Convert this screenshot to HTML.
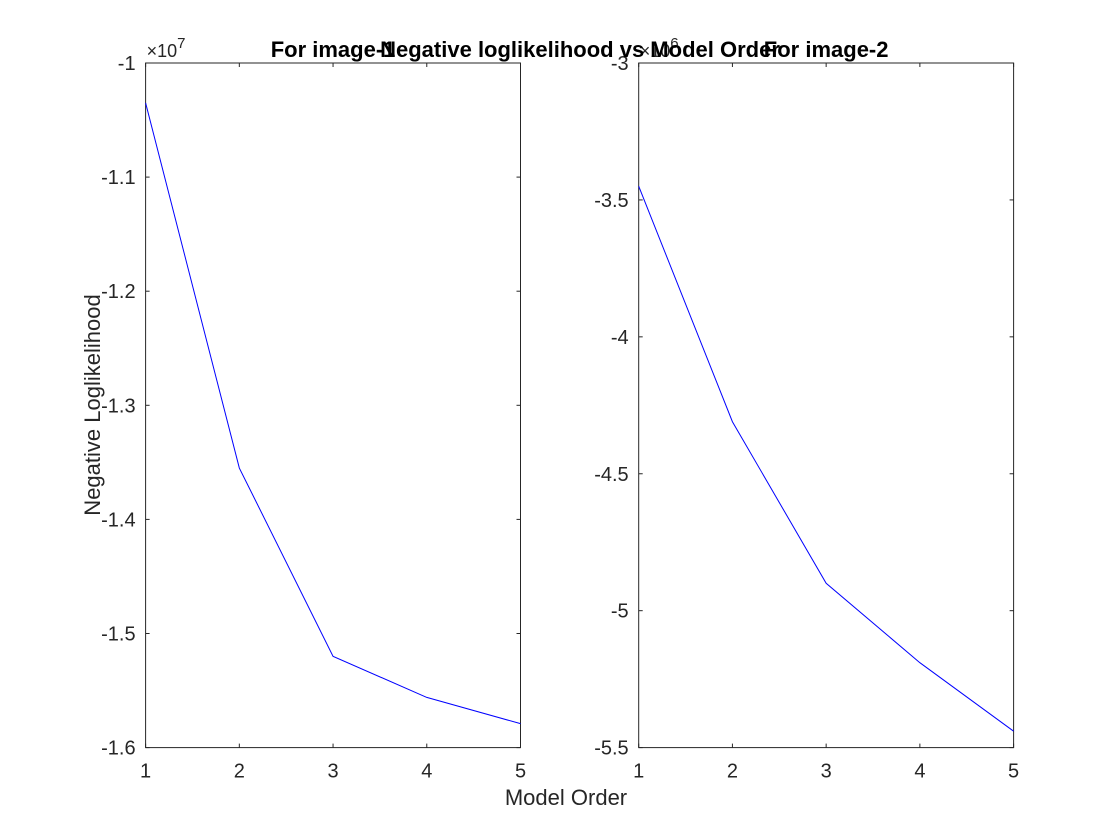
<!DOCTYPE html>
<html><head><meta charset="utf-8"><style>body{margin:0;background:#fff}svg{display:block;font-family:"Liberation Sans",Arial,sans-serif}</style></head>
<body>
<svg id="fig" width="1120" height="840" xmlns="http://www.w3.org/2000/svg"></svg>
<script>
const categories=[1,2,3,4,5];
const leftValues=[-1.035,-1.355,-1.52,-1.556,-1.579];
const rightValues=[-3.45,-4.31,-4.90,-5.19,-5.44];
const leftTicks=[-1,-1.1,-1.2,-1.3,-1.4,-1.5,-1.6];
const leftTickLabels=["-1","-1.1","-1.2","-1.3","-1.4","-1.5","-1.6"];
const rightTicks=[-3,-3.5,-4,-4.5,-5,-5.5];
const rightTickLabels=["-3","-3.5","-4","-4.5","-5","-5.5"];
const svg=document.getElementById('fig');
const NS='http://www.w3.org/2000/svg';
function mk(tag,attrs,parent,txt){const e=document.createElementNS(NS,tag);for(const k in attrs)e.setAttribute(k,attrs[k]);if(txt!==undefined)e.textContent=txt;(parent||svg).appendChild(e);return e;}
const yTop=63,yBot=747.6;
function panel(name,x0,x1,ymin,ymax,ticks,labels,vals,exp,title){
  const g=mk('g',{});
  
  
  const sx=v=>x0+(v-1)/4*(x1-x0);
  const sy=v=>yBot-(v-ymin)/(ymax-ymin)*(yBot-yTop);
  mk('rect',{x:x0,y:yTop,width:x1-x0,height:yBot-yTop,fill:'none',stroke:'#262626','stroke-width':1},g);
  categories.forEach(c=>{const x=sx(c);
    mk('line',{x1:x,x2:x,y1:yBot,y2:yBot-4,stroke:'#262626'},g);
    mk('line',{x1:x,x2:x,y1:yTop,y2:yTop+4,stroke:'#262626'},g);
    const t=mk('text',{x:x,y:yBot+30,'text-anchor':'middle','font-size':20,fill:'#262626'},g,String(c));
    
    
  });
  ticks.forEach((v,i)=>{const y=sy(v);
    mk('line',{x1:x0,x2:x0+4,y1:y,y2:y,stroke:'#262626'},g);
    mk('line',{x1:x1,x2:x1-4,y1:y,y2:y,stroke:'#262626'},g);
    const t=mk('text',{x:x0-10,y:y+7,'text-anchor':'end','font-size':20,fill:'#262626'},g,labels[i]);
    
    
  });
  const e=mk('text',{x:x0+1,y:yTop-6,'font-size':18,fill:'#262626'},g);
  
  
  mk('tspan',{},e,'×10');mk('tspan',{dy:-9,'font-size':15},e,exp);
  const pts=categories.map((c,i)=>sx(c)+','+sy(vals[i])).join(' ');
  const l=mk('polyline',{points:pts,fill:'none',stroke:'#0000ff','stroke-width':1},g);
  
  
  const tt=mk('text',{x:(x0+x1)/2,y:yTop-6,'text-anchor':'middle','font-size':22,'font-weight':'bold',fill:'#000'},g,title);
  
  
}
panel('left-axes',145.6,520.5,-1.6,-1,leftTicks,leftTickLabels,leftValues,'7','For image-1');
panel('right-axes',638.7,1013.6,-5.5,-3,rightTicks,rightTickLabels,rightValues,'6','For image-2');
const st=mk('text',{x:580,y:57,'text-anchor':'middle','font-size':22,'font-weight':'bold',fill:'#000'},svg,'Negative loglikelihood vs Model Order');


const xl=mk('text',{x:566,y:805,'text-anchor':'middle','font-size':22,fill:'#262626'},svg,'Model Order');


const yl=mk('text',{x:100,y:405,'text-anchor':'middle','font-size':22,fill:'#262626',transform:'rotate(-90 100 405)'},svg,'Negative Loglikelihood');


</script>
</body></html>
